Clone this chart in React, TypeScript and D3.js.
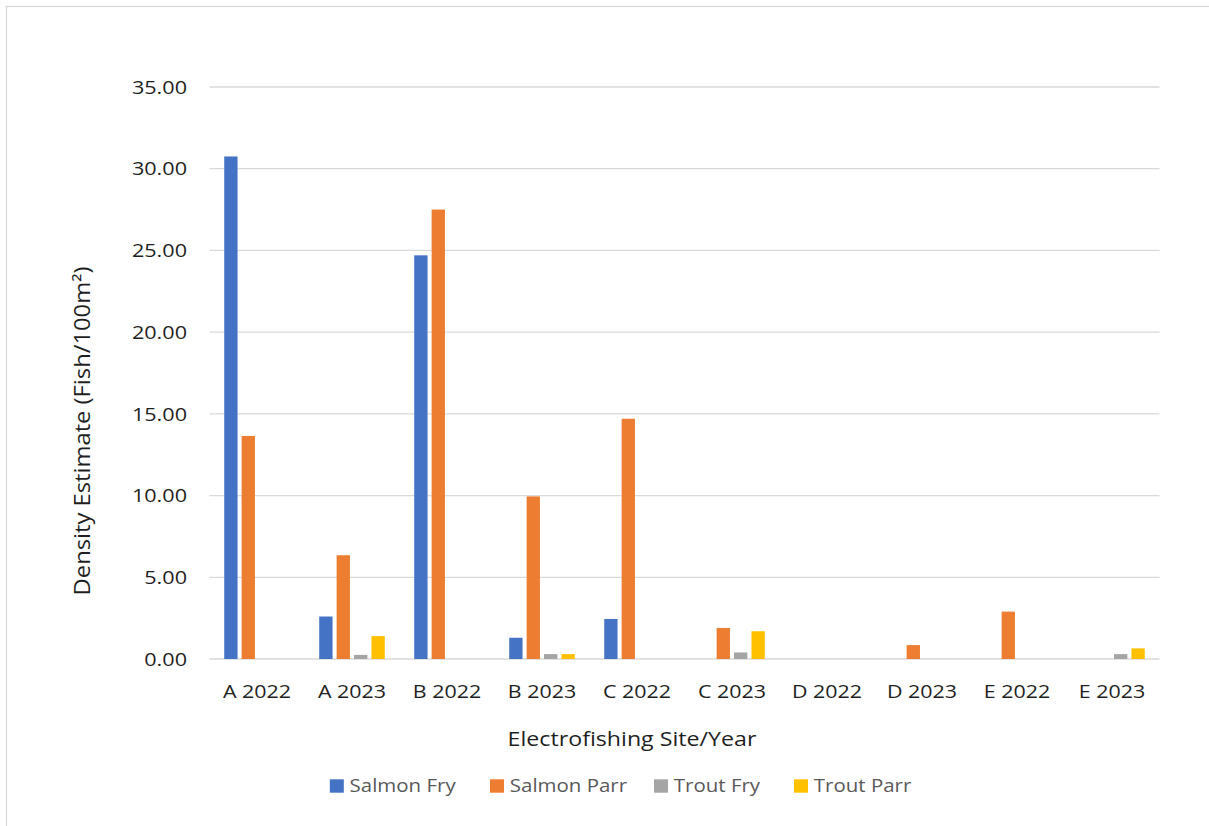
import React from "react";
import * as d3 from "d3";

const categories = ["A 2022", "A 2023", "B 2022", "B 2023", "C 2022", "C 2023", "D 2022", "D 2023", "E 2022", "E 2023"];
const seriesNames = ["Salmon Fry", "Salmon Parr", "Trout Fry", "Trout Parr"];
const seriesColors = ["#4472C4", "#ED7D31", "#A5A5A5", "#FFC000"];
const salmonFry = [30.75, 2.6, 24.7, 1.3, 2.45, 0, 0, 0, 0, 0];
const salmonParr = [13.65, 6.35, 27.5, 9.95, 14.7, 1.9, 0, 0.85, 2.9, 0];
const troutFry = [0, 0.25, 0, 0.3, 0, 0.4, 0, 0, 0, 0.3];
const troutParr = [0, 1.4, 0, 0.3, 0, 1.7, 0, 0, 0, 0.65];
const yTicks = [0, 5, 10, 15, 20, 25, 30, 35];

const W = 1209;
const H = 826;
const plot = { left: 209.5, right: 1159.5, top: 87, bottom: 659 };
const FONT = "'Open Sans', 'Liberation Sans', sans-serif";
const TEXT = "#1f1f1f";

// Text placed at (x, y) and widened or narrowed horizontally by sx
function Label(props: {
  x: number;
  y: number;
  sx?: number;
  anchor?: "start" | "middle" | "end";
  size: number;
  fill?: string;
  dy?: string;
  children: React.ReactNode;
}) {
  const { x, y, sx = 1, anchor = "start", size, fill = TEXT, dy, children } = props;
  return (
    <text
      transform={`translate(${x},${y}) scale(${sx},1)`}
      textAnchor={anchor}
      fontSize={size}
      fill={fill}
      dy={dy}
    >
      {children}
    </text>
  );
}

export default function App() {
  const series = [salmonFry, salmonParr, troutFry, troutParr];

  const x0 = d3
    .scaleBand<string>()
    .domain(categories)
    .range([plot.left, plot.right])
    .paddingInner(0.31)
    .paddingOuter(0.155);

  const x1 = d3
    .scaleBand<number>()
    .domain(d3.range(seriesNames.length))
    .range([0, x0.bandwidth()])
    .paddingInner(0.235)
    .paddingOuter(0);

  const y = d3.scaleLinear().domain([0, 35]).range([plot.bottom, plot.top]);

  const legendX = [329.8, 490, 654, 794];

  return (
    <svg
      width={W}
      height={H}
      style={{ position: "absolute", left: 0, top: 0, background: "#fff" }}
      fontFamily={FONT}
    >
      <rect x={0} y={0} width={W} height={H} fill="#fff" />
      <rect x={6.5} y={6.5} width={1252} height={900} fill="none" stroke="#d9d9d9" strokeWidth={1.3} />

      {/* horizontal gridlines */}
      {yTicks.map((t) => (
        <line
          key={"g" + t}
          x1={plot.left}
          x2={plot.right}
          y1={y(t)}
          y2={y(t)}
          stroke="#d9d9d9"
          strokeWidth={1.3}
        />
      ))}

      {/* y tick labels */}
      {yTicks.map((t) => (
        <Label key={"t" + t} x={187} y={y(t)} dy="0.36em" anchor="end" size={18.8} sx={1.15}>
          {d3.format(".2f")(t)}
        </Label>
      ))}

      {/* bars */}
      {categories.map((c, ci) => (
        <g key={c} transform={`translate(${x0(c)},0)`}>
          {series.map((vals, si) =>
            vals[ci] > 0 ? (
              <rect
                key={si}
                x={x1(si)}
                y={y(vals[ci])}
                width={x1.bandwidth()}
                height={y(0) - y(vals[ci])}
                fill={seriesColors[si]}
              />
            ) : null
          )}
        </g>
      ))}

      {/* x tick labels */}
      {categories.map((c) => (
        <Label
          key={"x" + c}
          x={(x0(c) as number) + x0.bandwidth() / 2}
          y={697.5}
          anchor="middle"
          size={18.8}
          sx={1.14}
        >
          {c}
        </Label>
      ))}

      {/* axis titles */}
      <Label x={632} y={745.5} anchor="middle" size={20} sx={1.16}>
        Electrofishing Site/Year
      </Label>
      <text
        transform={`translate(90,431) rotate(-90) scale(1.08,1)`}
        textAnchor="middle"
        fontSize={22}
        fill={TEXT}
      >
        Density Estimate (Fish/100m²)
      </text>

      {/* legend */}
      {seriesNames.map((n, i) => (
        <g key={n}>
          <rect x={legendX[i]} y={779.3} width={14} height={13.4} fill={seriesColors[i]} />
          <Label x={legendX[i] + 19.8} y={792.4} size={18.2} sx={1.125} fill="#595959">
            {n}
          </Label>
        </g>
      ))}
    </svg>
  );
}
